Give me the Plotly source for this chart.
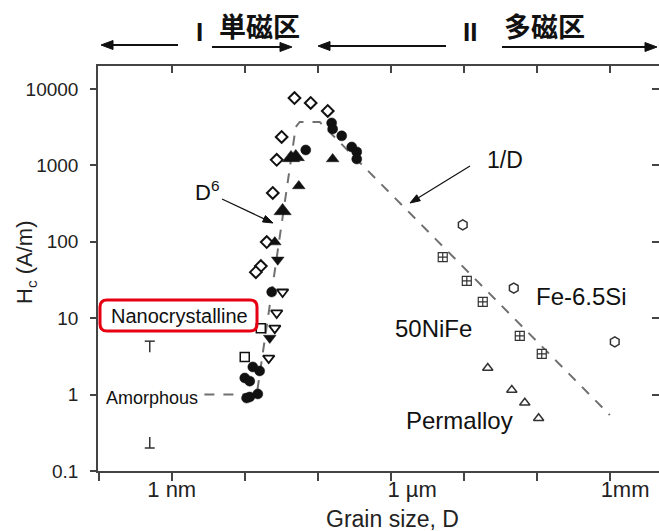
import plotly.graph_objects as go

# ---------------- data (grain size in nm, Hc in A/m) ----------------
diamond_open_D = [48, 80, 137, 32, 27.4, 24.2, 20, 16.6, 14.2]
diamond_open_H = [7600, 6560, 5150, 2350, 1180, 435, 99, 48, 40]

square_open_D = [16.6, 10]
square_open_H = [7.4, 3.1]

tri_down_open_D = [33, 27.4, 25.8, 21.3]
tri_down_open_H = [22, 11.7, 7.4, 3.0]

circle_fill_D = [12.9, 16.0, 10.0, 11.7, 11.7, 15.1, 10.6, 23.4, 68.5, 155, 160, 213, 292, 342, 342]
circle_fill_H = [2.3, 2.04, 1.65, 1.5, 0.93, 1.02, 0.9, 22, 1590, 3590, 2990, 2430, 1740, 1500, 1210]

tri_fill_big_D = [50, 43, 33]
tri_fill_big_H = [1290, 1250, 253]
tri_fill_D = [160, 55, 25.8]
tri_fill_H = [1210, 537, 99]

tri_down_fill_D = [28.3, 22]
tri_down_fill_H = [58, 5.5]

fesi_D = [9680, 48400, 1.17e6]
fesi_H = [166, 24.8, 4.9]

nife_D = [5150, 11000, 18200, 58500, 117000]
nife_H = [63, 30.7, 16.3, 5.85, 3.4]

permalloy_D = [21300, 45500, 68500, 106000]
permalloy_H = [2.23, 1.15, 0.78, 0.49]

trend_D = [2.8, 14.6, 50, 56.6, 106, 1e6]
trend_H = [1.0, 1.0, 3190, 3700, 3700, 0.54]

amorph_D = 0.5
amorph_range = [0.2, 5]

x_tickvals = [1, 1e3, 1e6]
x_ticktext = ["1 nm", "\u00a0" * 7 + "1 µm", "\u00a0" * 5 + "1mm"]
x_minorvals = [0.1, 10, 100, 1e4, 1e5]
x_alltickvals = [0.1, 1, 10, 100, 1e3, 1e4, 1e5, 1e6]
y_tickvals = [0.1, 1, 10, 100, 1000, 10000]
y_ticktext = ["0.1", "1", "10", "100", "1000", "10000"]

# ---------------- geometry helpers (page pixel coords) ----------------
W, H = 659, 531
L, R, T, B = 98, 659, 66, 471
XR = [-1.01, 6.674]
YR = [-1.0, 4.30]


def pxx(x):
    return (x - L) / (R - L)


def pxy(y):
    return (B - y) / (B - T)


FONT = "Arial, Liberation Sans, sans-serif"
INK = "#111111"

fig = go.Figure()


def add_markers(xs, ys, symbol, size, filled, lw=1.8, color=INK):
    fig.add_trace(go.Scatter(
        x=xs, y=ys, mode="markers", showlegend=False, hoverinfo="skip",
        marker=dict(symbol=symbol, size=size,
                    color=color if filled else "white",
                    line=dict(color=color, width=lw if not filled else 0.5)),
    ))


# dashed trend line
fig.add_trace(go.Scatter(x=trend_D, y=trend_H, mode="lines", showlegend=False,
                         hoverinfo="skip",
                         line=dict(color="#707070", width=2, dash="10px,9px")))

# amorphous range caps
cap = 10 ** (5 / 73)
stem = 10 ** (11 / 76.4)
lo, hi = amorph_range
cap_x = [amorph_D / cap, amorph_D * cap, None, amorph_D, amorph_D, None,
         amorph_D / cap, amorph_D * cap, None, amorph_D, amorph_D]
cap_y = [hi, hi, None, hi, hi / stem, None, lo, lo, None, lo, lo * stem]
fig.add_trace(go.Scatter(x=cap_x, y=cap_y, mode="lines", showlegend=False,
                         hoverinfo="skip", line=dict(color="#333", width=1.5)))

add_markers(diamond_open_D, diamond_open_H, "diamond", 9, False, 2)
add_markers(square_open_D, square_open_H, "square", 9, False, 1.5)
add_markers(tri_down_open_D, tri_down_open_H, "triangle-down", 10, False, 1.8)
add_markers(circle_fill_D, circle_fill_H, "circle", 10, True)
add_markers(tri_fill_big_D, tri_fill_big_H, "triangle-up", 15, True)
add_markers(tri_fill_D, tri_fill_H, "triangle-up", 11, True)
add_markers(tri_down_fill_D, tri_down_fill_H, "triangle-down", 11, True)
add_markers(fesi_D, fesi_H, "hexagon", 10, False, 1.5, "#333")
add_markers(nife_D, nife_H, "square-cross", 9, False, 1.2, "#333")
add_markers(permalloy_D, permalloy_H, "triangle-up", 9, False, 1.5, "#333")

# invisible trace to carry mirrored axes
fig.add_trace(go.Scatter(x=fesi_D, y=fesi_H, xaxis="x2", yaxis="y2", mode="markers",
                         marker=dict(opacity=0), showlegend=False, hoverinfo="skip"))

annotations = []
shapes = []


def text(x, y, s, size=17, bold=False, angle=0, color=INK, family=FONT):
    annotations.append(dict(
        x=pxx(x), y=pxy(y), xref="paper", yref="paper", text=f"<b>{s}</b>" if bold else s,
        showarrow=False, textangle=angle,
        font=dict(family=family, size=size, color=color),
        xanchor="center", yanchor="middle"))


def arrow(hx, hy, tx, ty, width=2.0, hl=12.0, hw=4.5):
    dx, dy = hx - tx, hy - ty
    n = (dx * dx + dy * dy) ** 0.5
    ux, uy = dx / n, dy / n
    bx, by = hx - ux * hl, hy - uy * hl
    px_, py_ = -uy, ux
    shapes.append(dict(type="line", xref="paper", yref="paper",
                       x0=pxx(tx), y0=pxy(ty), x1=pxx(bx + ux * 2), y1=pxy(by + uy * 2),
                       line=dict(color=INK, width=width)))
    pts = [(hx, hy), (bx + px_ * hw, by + py_ * hw), (bx - px_ * hw, by - py_ * hw)]
    path = "M " + " L ".join(f"{pxx(a)},{pxy(b)}" for a, b in pts) + " Z"
    shapes.append(dict(type="path", xref="paper", yref="paper", path=path,
                       fillcolor=INK, line=dict(color=INK, width=1)))


# top region labels
CJK = "Noto Sans CJK JP, Noto Sans CJK SC, sans-serif"
text(199, 32, "I", 26, True)
text(259, 25, "単磁区", 27, True, family=CJK)
text(470, 32, "II", 26, True)
text(544, 25, "多磁区", 27, True, family=CJK)
arrow(101, 45, 178, 45)
arrow(292, 47, 212, 47)
arrow(318, 46, 446, 46)
arrow(657, 47, 502, 47)

# in-plot labels
text(207, 191, "D<sup>6</sup>", 22)
arrow(273, 223, 222, 199, width=1.2, hl=10, hw=3.5)
text(505, 160, "1/D", 23)
arrow(410, 203, 470, 166, width=1.2, hl=10, hw=3.5)
text(581, 296, "Fe-6.5Si", 24)
text(433, 328, "50NiFe", 24)
text(459, 420, "Permalloy", 24)
text(179, 316, "Nanocrystalline", 20)
text(152, 398, "Amorphous", 18)

# axis titles
text(392, 519, "Grain size, D", 23, color="#222")
text(26, 262, "H<sub>c</sub> (A/m)", 22, angle=-90, color="#222")

# rounded red box
x0, x1, y0, y1, r = pxx(100), pxx(257), pxy(331), pxy(300), 7
rx, ry = r / (R - L), r / (B - T)
path = (f"M {x0+rx},{y0} L {x1-rx},{y0} Q {x1},{y0} {x1},{y0+ry} "
        f"L {x1},{y1-ry} Q {x1},{y1} {x1-rx},{y1} L {x0+rx},{y1} "
        f"Q {x0},{y1} {x0},{y1-ry} L {x0},{y0+ry} Q {x0},{y0} {x0+rx},{y0} Z")
shapes.append(dict(type="path", xref="paper", yref="paper", path=path,
                   line=dict(color="#e60012", width=3)))

axis_common = dict(type="log", showgrid=False, zeroline=False,
                   linecolor="#444", linewidth=1.5, tickcolor="#444", tickwidth=1.5)

fig.update_layout(
    width=W, height=H,
    margin=dict(l=L, r=W - R, t=T, b=H - B, pad=0),
    paper_bgcolor="white", plot_bgcolor="white",
    showlegend=False,
    annotations=annotations, shapes=shapes,
    xaxis=dict(**axis_common, range=XR, tickvals=x_tickvals, ticktext=x_ticktext,
               ticks="outside", ticklen=8, showline=True, ticklabelstandoff=-10,
               minor=dict(tickvals=x_minorvals, ticks="outside", ticklen=8,
                          tickwidth=1.5, tickcolor="#444", showgrid=False),
               tickfont=dict(family=FONT, size=22, color="#222")),
    yaxis=dict(**axis_common, range=YR, tickvals=y_tickvals, ticktext=y_ticktext,
               ticks="outside", ticklen=6, showline=True, ticklabelstandoff=8,
               tickfont=dict(family=FONT, size=19, color="#222")),
    xaxis2=dict(**axis_common, range=XR, tickvals=x_alltickvals, overlaying="x",
                side="top", ticks="inside", ticklen=7, showline=True,
                showticklabels=False),
    yaxis2=dict(**axis_common, range=YR, tickvals=y_tickvals, overlaying="y",
                side="right", ticks="inside", ticklen=7, showline=False,
                showticklabels=False),
)

fig.write_html("out.html", config={"displayModeBar": False},
               post_script="document.body.style.margin='0px';")
